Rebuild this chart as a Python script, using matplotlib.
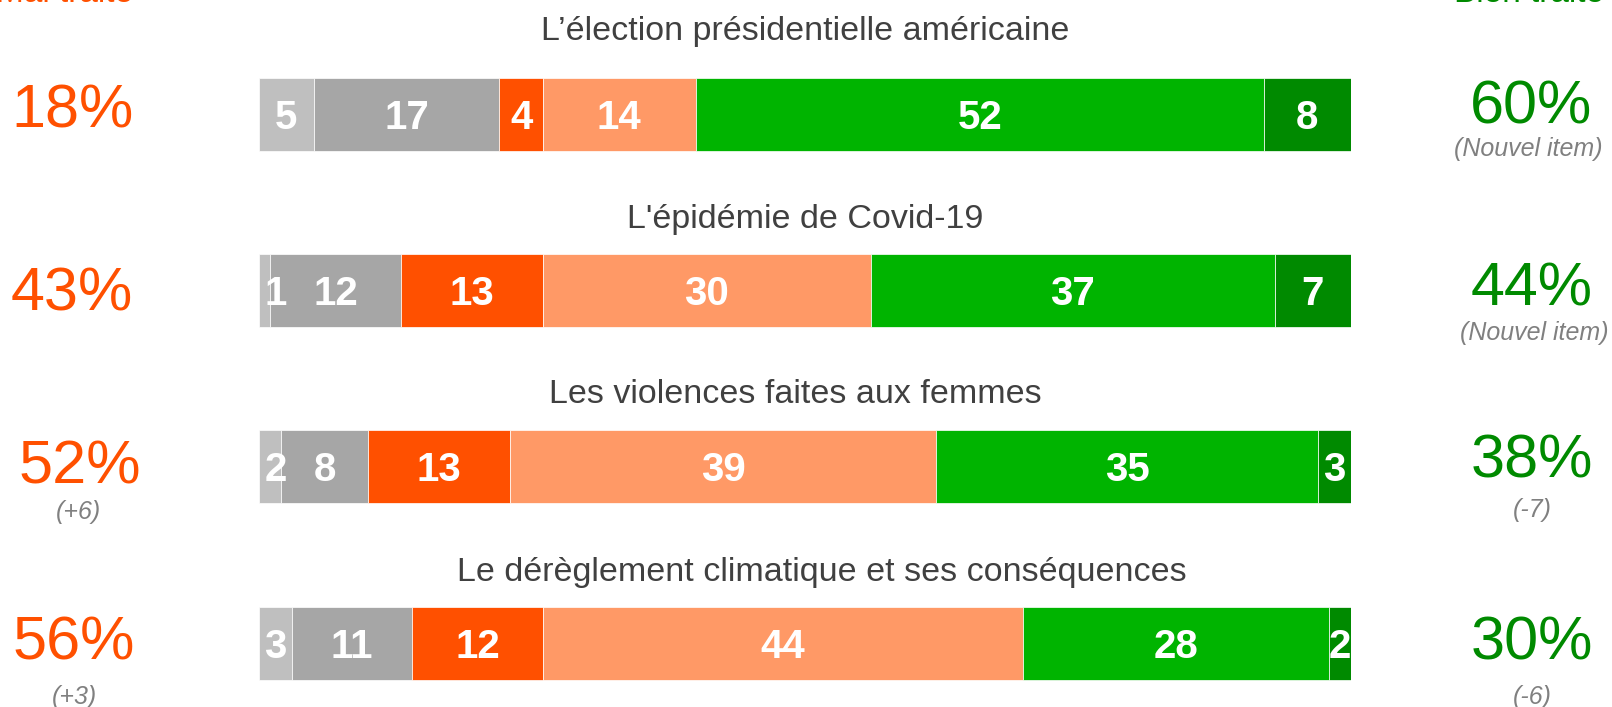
import matplotlib
matplotlib.use("Agg")
import matplotlib.pyplot as plt

plt.rcParams["font.family"] = ["Liberation Sans", "DejaVu Sans"]

W, H = 1612, 707

TOPICS = [
    "L’élection présidentielle américaine",
    "L'épidémie de Covid-19",
    "Les violences faites aux femmes",
    "Le dérèglement climatique et ses conséquences",
]

# stacked segments, left to right
nsp          = [5, 1, 2, 3]
not_followed = [17, 12, 8, 11]
tres_mal     = [4, 13, 13, 12]
plutot_mal   = [14, 30, 39, 44]
plutot_bien  = [52, 37, 35, 28]
tres_bien    = [8, 7, 3, 2]
SEGMENTS = [nsp, not_followed, tres_mal, plutot_mal, plutot_bien, tres_bien]
SEG_COLORS = ["#BFBFBF", "#A6A6A6", "#FF5000", "#FF9966", "#00B400", "#008A00"]

MAL_TRAITE = [18, 43, 52, 56]
MAL_CHANGE = [None, None, "(+6)", "(+3)"]
BIEN_TRAITE = [60, 44, 38, 30]
BIEN_CHANGE = ["(Nouvel item)", "(Nouvel item)", "(-7)", "(-6)"]

ORANGE = "#FF5000"
GREEN = "#008A00"
GREY_TXT = "#808080"
TITLE_C = "#404040"

# layout (pixels)
BAR_X0, BAR_W = 259, 1092
ROW0, ROW_STEP, BAR_H = 114.5, 176.2, 73


def fpos(x, y):
    return x / W, 1 - y / H


fig = plt.figure(figsize=(W / 100, H / 100), dpi=100)
ax = fig.add_axes([BAR_X0 / W, 0, BAR_W / W, 1])
ax.set_xlim(0, 100)
ax.set_ylim((H - ROW0) / ROW_STEP, -ROW0 / ROW_STEP)
ax.axis("off")

rows = list(range(len(TOPICS)))
lefts = [0] * len(rows)
for seg, color in zip(SEGMENTS, SEG_COLORS):
    ax.barh(rows, seg, left=lefts, height=BAR_H / ROW_STEP, color=color,
            edgecolor="white", linewidth=0.5)
    for r, (l, v) in enumerate(zip(lefts, seg)):
        # keep tiny labels at the left edge inside the bar
        xc = max(l + v / 2, 1.5)
        ax.text(xc, r + 14.5 / ROW_STEP, str(v), ha="center",
                va="baseline", fontsize=29, fontweight="bold", color="white")
    lefts = [l + v for l, v in zip(lefts, seg)]

# topic titles
title_x = [805, 805, 795, 822]
title_base = [40, 228, 403, 581]
for r, t in enumerate(TOPICS):
    fig.text(*fpos(title_x[r], title_base[r]), t, ha="center", va="baseline",
             fontsize=24.5, color=TITLE_C)

# column headers (cut at top in the original)
fig.text(*fpos(64, 2), "Mal traité", ha="center", va="baseline",
         fontsize=24, color=ORANGE)
fig.text(*fpos(1529, 2), "Bien traité", ha="center", va="baseline",
         fontsize=24, color=GREEN)

left_x = [72, 72, 80, 74]
left_base = [128, 310, 483, 659]
left_sub_x = [None, None, 78, 74]
left_sub_base = [None, None, 519, 704]
right_x = [1531, 1532, 1532, 1532]
right_base = [123, 305, 477, 659]
right_sub_x = [1528, 1534, 1532, 1532]
right_sub_base = [156, 340, 517, 704]

for r in rows:
    fig.text(*fpos(left_x[r], left_base[r]), f"{MAL_TRAITE[r]}%", ha="center",
             va="baseline", fontsize=44, color=ORANGE)
    if MAL_CHANGE[r]:
        fig.text(*fpos(left_sub_x[r], left_sub_base[r]), MAL_CHANGE[r],
                 ha="center", va="baseline", fontsize=18, style="italic",
                 color=GREY_TXT)
    fig.text(*fpos(right_x[r], right_base[r]), f"{BIEN_TRAITE[r]}%", ha="center",
             va="baseline", fontsize=44, color=GREEN)
    fig.text(*fpos(right_sub_x[r], right_sub_base[r]), BIEN_CHANGE[r],
             ha="center", va="baseline", fontsize=18, style="italic",
             color=GREY_TXT)

fig.savefig("out.png", dpi=100)
